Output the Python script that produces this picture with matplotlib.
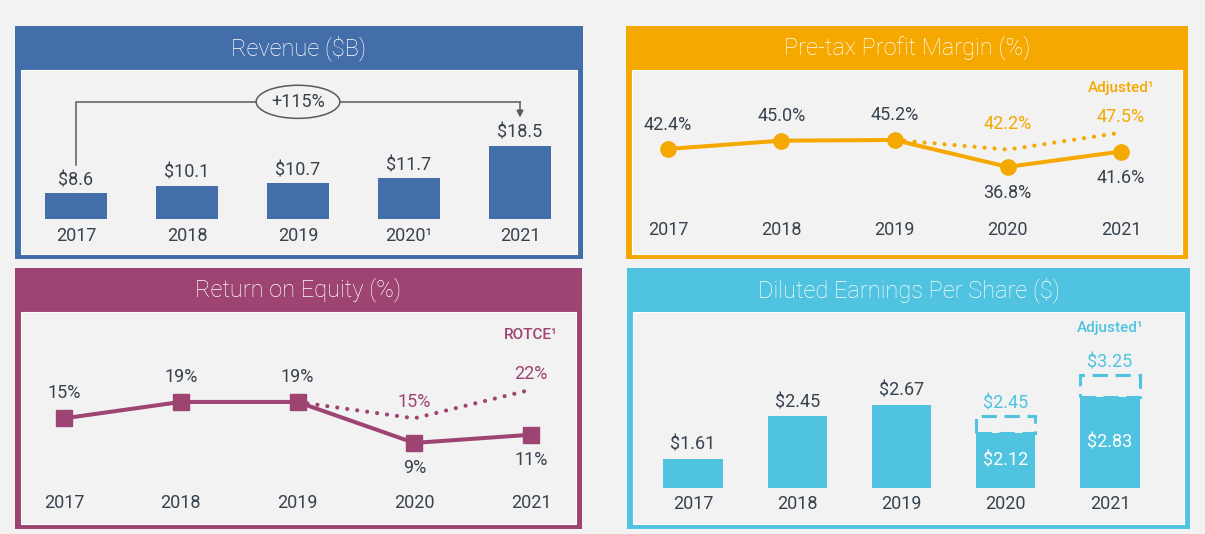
import matplotlib.pyplot as plt
from matplotlib.patches import Rectangle
import numpy as np

plt.rcParams['font.family'] = ['Roboto', 'DejaVu Sans']

# ---------------------------------------------------------
# Data
# ---------------------------------------------------------
years = ["2017", "2018", "2019", "2020", "2021"]
rev_years = ["2017", "2018", "2019", "2020\u00b9", "2021"]
revenue = [8.6, 10.1, 10.7, 11.7, 18.5]
revenue_growth = "+115%"

margin = [42.4, 45.0, 45.2, 36.8, 41.6]
margin_adj = [np.nan, np.nan, 45.2, 42.2, 47.5]

roe = [15, 19, 19, 9, 11]
rotce = [np.nan, np.nan, 19, 15, 22]

eps = [1.61, 2.45, 2.67, 2.12, 2.83]
eps_adj = [np.nan, np.nan, np.nan, 2.45, 3.25]

# ---------------------------------------------------------
# Style
# ---------------------------------------------------------
BG = "#f2f2f2"
TXT = "#38424d"
BLUE = "#436ea9"
ORANGE = "#f5a800"
MAGENTA = "#9d4472"
CYAN = "#4fc3df"

W, H = 1205, 534
fig = plt.figure(figsize=(W / 100, H / 100), dpi=100)
fig.patch.set_facecolor(BG)


def box(x0, y0, x1, y1):
    # pixel box (top-left origin) -> figure fraction
    return [x0 / W, 1 - y1 / H, (x1 - x0) / W, (y1 - y0) / H]


def panel(x0, y0, x1, y1, bar_bottom, color, title):
    fig.add_artist(Rectangle(box(x0, y0, x1, y1)[:2], (x1 - x0) / W, (y1 - y0) / H,
                             transform=fig.transFigure, fc=color, ec="none", zorder=-3))
    ix0, iy0, ix1, iy1 = x0 + 6, bar_bottom, x1 - 6, y1 - 5
    fig.add_artist(Rectangle(box(ix0, iy0, ix1, iy1)[:2], (ix1 - ix0) / W, (iy1 - iy0) / H,
                             transform=fig.transFigure, fc=BG, ec="white", lw=0.8,
                             zorder=-2))
    fig.text((x0 + x1) / 2 / W, 1 - (y0 + bar_bottom) / 2 / H, title, color="white",
             fontsize=17, fontweight="light", ha="center", va="center")


def make_axes(rect, ylim):
    ax = fig.add_axes(box(*rect))
    ax.set_xlim(-0.5, 4.5)
    ax.set_ylim(*ylim)
    ax.set_axis_off()
    return ax


def year_labels(ax, labels, dy):
    for i, lab in enumerate(labels):
        ax.annotate(lab, (i, 0), xycoords=("data", "axes fraction"), xytext=(0, -dy),
                    textcoords="offset pixels", ha="center", va="center",
                    fontsize=13, color=TXT)


def label(ax, x, y, s, dy, color=TXT, **kw):
    ax.annotate(s, (x, y), xytext=(0, dy), textcoords="offset pixels",
                ha="center", va="center", fontsize=13, color=color, **kw)


# ---------------------------------------------------------
# Panel frames
# ---------------------------------------------------------
panel(15, 26, 583, 259, 70, BLUE, "Revenue ($B)")
panel(626, 26, 1188, 259, 70, ORANGE, "Pre-tax Profit Margin (%)")
panel(15, 268, 582, 529, 312, MAGENTA, "Return on Equity (%)")
panel(627, 268, 1190, 529, 312, CYAN, "Diluted Earnings Per Share ($)")

x = np.arange(len(years))

# ---------------------------------------------------------
# Revenue bars
# ---------------------------------------------------------
ax1 = make_axes((20.5, 70, 575.5, 219), (3.13, 34.5))
ax1.bar(x, revenue, width=0.55, color=BLUE)
for i, v in enumerate(revenue):
    label(ax1, i, v, f"${v:.1f}", 13)
year_labels(ax1, rev_years, 17)

gap = 6.0
top = max(revenue) + 9.3
ax1.plot([x[0], x[0], x[-1]], [revenue[0] + gap, top, top], color="#555b62", lw=1.1)
ax1.annotate("", xy=(x[-1], revenue[-1] + gap), xytext=(x[-1], top),
             arrowprops=dict(arrowstyle="-|>", color="#555b62", lw=1.1,
                             shrinkA=0, shrinkB=0, mutation_scale=10))
ax1.text(x[2], top, revenue_growth, ha="center", va="center", fontsize=13, color=TXT,
         bbox=dict(boxstyle="ellipse,pad=0.15", fc=BG, ec="#555b62", lw=1.1))

# ---------------------------------------------------------
# Pre-tax margin line
# ---------------------------------------------------------
ax2 = make_axes((611.4, 70, 1177.6, 219), (20.51, 67.08))
ax2.plot(x, margin_adj, color=ORANGE, lw=3, linestyle=(0, (0.01, 2.4)),
         dash_capstyle="round")
ax2.plot(x, margin, color=ORANGE, lw=2.9, marker="o", markersize=11)
m_off = [24, 25, 25, -26, -26]
for i, v in enumerate(margin):
    label(ax2, i, v, f"{v:.1f}%", m_off[i])
a_off = [0, 0, 0, 26, 16]
for i, v in enumerate(margin_adj):
    if np.isfinite(v) and v != margin[i]:
        label(ax2, i, v, f"{v:.1f}%", a_off[i], color=ORANGE)
ax2.text(x[-1], 0.879, "Adjusted\u00b9", transform=ax2.get_xaxis_transform(),
         ha="center", va="center", fontsize=11, fontweight="medium", color=ORANGE)
year_labels(ax2, years, 11)

# ---------------------------------------------------------
# Return on equity line
# ---------------------------------------------------------
ax3 = make_axes((5.6, 312, 589.4, 488), (-2.0, 40.95))
ax3.plot(x, rotce, color=MAGENTA, lw=3, linestyle=(0, (0.01, 2.4)),
         dash_capstyle="round")
ax3.plot(x, roe, color=MAGENTA, lw=2.9, marker="s", markersize=11)
r_off = [25, 25, 25, -25, -25]
for i, v in enumerate(roe):
    label(ax3, i, v, f"{v}%", r_off[i])
for i, v in enumerate(rotce):
    if np.isfinite(v) and v != roe[i]:
        label(ax3, i, v, f"{v:.0f}%", 16, color=MAGENTA)
ax3.text(x[-1], 0.869, "ROTCE\u00b9", transform=ax3.get_xaxis_transform(),
         ha="center", va="center", fontsize=11, fontweight="medium", color=MAGENTA)
year_labels(ax3, years, 15)

# ---------------------------------------------------------
# Diluted EPS bars
# ---------------------------------------------------------
ax4 = make_axes((640.9, 312, 1162.1, 488), (1.04, 4.49))
ax4.bar(x, eps, width=0.57, color=CYAN)
eps_arr = np.array(eps)
adj_arr = np.array(eps_adj)
ax4.bar(x, adj_arr - eps_arr, bottom=eps_arr, width=0.57, fill=False,
        edgecolor=CYAN, lw=2.2, linestyle=(0, (5, 2.5)))
ymin = ax4.get_ylim()[0]
for i, v in enumerate(eps):
    if np.isfinite(eps_adj[i]):
        ax4.text(i, (ymin + v) / 2, f"${v:.2f}", ha="center", va="center",
                 fontsize=13, color="white")
        label(ax4, i, eps_adj[i], f"${eps_adj[i]:.2f}", 13, color=CYAN)
    else:
        label(ax4, i, v, f"${v:.2f}", 14)
ax4.text(x[-1], 0.909, "Adjusted\u00b9", transform=ax4.get_xaxis_transform(),
         ha="center", va="center", fontsize=11, fontweight="medium", color=CYAN)
year_labels(ax4, years, 16)

fig.savefig("out.png", dpi=100, facecolor=BG)
